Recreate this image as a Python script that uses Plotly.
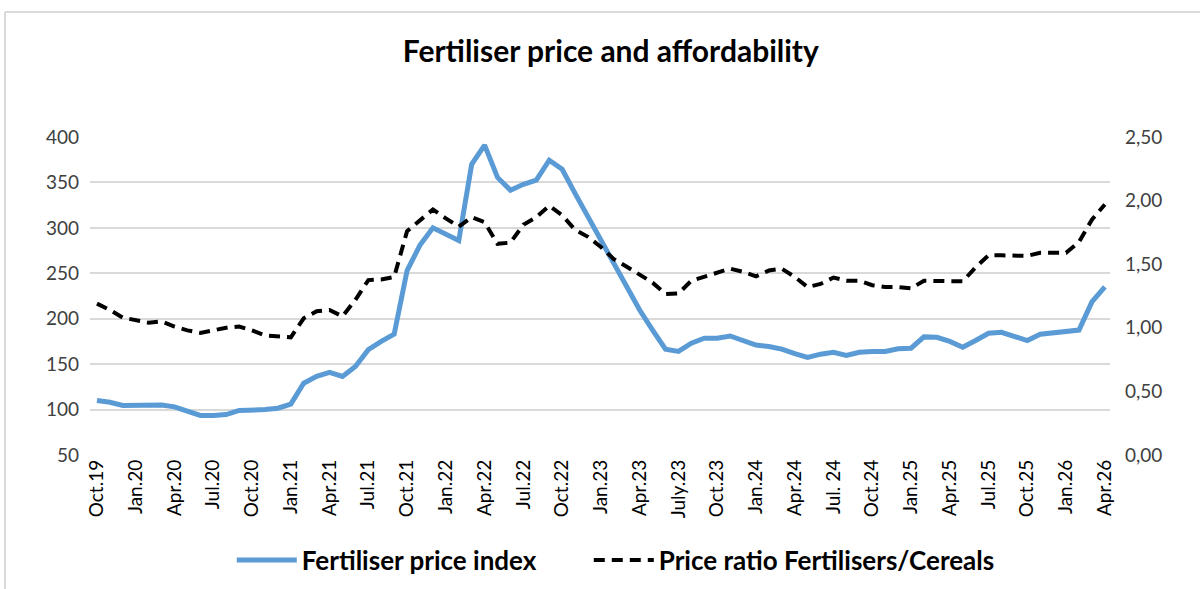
import plotly.graph_objects as go

months = ["Oct.19","Nov.19","Dec.19","Jan.20","Feb.20","Mar.20","Apr.20","May.20","Jun.20","Jul.20","Aug.20","Sep.20",
          "Oct.20","Nov.20","Dec.20","Jan.21","Feb.21","Mar.21","Apr.21","May.21","Jun.21","Jul.21","Aug.21","Sep.21",
          "Oct.21","Nov.21","Dec.21","Jan.22","Feb.22","Mar.22","Apr.22","May.22","Jun.22","Jul.22","Aug.22","Sep.22",
          "Oct.22","Nov.22","Dec.22","Jan.23","Feb.23","Mar.23","Apr.23","May.23","Jun.23","Jul.23","Aug.23","Sep.23",
          "Oct.23","Nov.23","Dec.23","Jan.24","Feb.24","Mar.24","Apr.24","May.24","Jun.24","Jul.24","Aug.24","Sep.24",
          "Oct.24","Nov.24","Dec.24","Jan.25","Feb.25","Mar.25","Apr.25","May.25","Jun.25","Jul.25","Aug.25","Sep.25",
          "Oct.25","Nov.25","Dec.25","Jan.26","Feb.26","Mar.26","Apr.26"]

fert_index = [110, 108, 104.5, 105, 105, 105, 103, 98, 93.5, 93.5, 94.5, 99,
              99, 100, 101.5, 106, 129, 136.5, 141, 136.5, 147.5, 166, 175, 183,
              253, 281, 300, 293.5, 286, 370, 391, 355.5, 341.5, 348, 352.5, 374.5,
              364.5, 338, 312, 286, 259.5, 233, 209.5, 187.5, 166.5, 164, 173, 178.5,
              178.5, 181, 176, 171, 169.5, 166.5, 161.5, 157.5, 161, 163, 159.5, 163,
              164, 164, 167, 167.5, 180, 179.5, 175, 168.5, 176, 184, 185, 180.5,
              176, 183, 184.5, 186, 187.5, 218.5, 235]

price_ratio = [1.19, 1.14, 1.08, 1.06, 1.04, 1.05, 1.01, 0.98, 0.96, 0.98, 1.00, 1.01,
               0.98, 0.94, 0.93, 0.925, 1.075, 1.13, 1.14, 1.09, 1.22, 1.375, 1.38, 1.40,
               1.76, 1.85, 1.93, 1.86, 1.795, 1.87, 1.83, 1.66, 1.67, 1.81, 1.87, 1.96,
               1.885, 1.77, 1.715, 1.635, 1.54, 1.48, 1.42, 1.355, 1.265, 1.27, 1.37, 1.40,
               1.435, 1.465, 1.44, 1.405, 1.45, 1.465, 1.40, 1.32, 1.345, 1.395, 1.37, 1.37,
               1.335, 1.32, 1.32, 1.31, 1.37, 1.37, 1.365, 1.365, 1.475, 1.57, 1.57, 1.565,
               1.565, 1.59, 1.59, 1.59, 1.675, 1.85, 1.97]

tick_months = months[::3]
tick_labels = ["Oct.19","Jan.20","Apr.20","Jul.20","Oct.20","Jan.21","Apr.21","Jul.21","Oct.21","Jan.22",
               "Apr.22","Jul.22","Oct.22","Jan.23","Apr.23","July.23","Oct.23","Jan.24","Apr.24","Jul. 24",
               "Oct.24","Jan.25","Apr.25","Jul.25","Oct.25","Jan.26","Apr.26"]

FONT = "Lato"

fig = go.Figure()
fig.add_trace(go.Scatter(x=months, y=fert_index, mode="lines", name="<b>Fertiliser price index</b>",
                         line=dict(color="#5B9BD5", width=5), yaxis="y", legend="legend"))
fig.add_trace(go.Scatter(x=months, y=price_ratio, mode="lines", name="<b>Price ratio Fertilisers/Cereals</b>",
                         line=dict(color="#000000", width=4, dash="11px,7px"), yaxis="y2", legend="legend2"))

legend_common = dict(orientation="h", xanchor="left", yref="container", y=0.049, yanchor="middle",
                     font=dict(family=FONT, size=26, color="#000000"), itemwidth=60,
                     bgcolor="rgba(0,0,0,0)")

fig.update_layout(
    width=1200, height=589,
    paper_bgcolor="white", plot_bgcolor="white",
    separators=", ",
    margin=dict(l=90, r=90, t=137, b=134),
    title=dict(text="<b>Fertiliser price and affordability</b>", x=0.509, xanchor="center",
               y=0.912, yanchor="middle", font=dict(family=FONT, size=30, color="#000000")),
    font=dict(family=FONT, color="#404040"),
    xaxis=dict(type="category", tickmode="array", tickvals=tick_months, ticktext=tick_labels,
               tickangle=-90, tickfont=dict(family=FONT, size=19, color="#000000"),
               showgrid=False, showline=False, zeroline=False, ticks="", range=[-0.54, 78.4]),
    yaxis=dict(range=[50, 400], dtick=50, tickfont=dict(family=FONT, size=19, color="#404040"),
               showgrid=True, gridcolor="#d9d9d9", gridwidth=2, zeroline=False, ticks="",
               showline=False, ticklabelstandoff=10),
    yaxis2=dict(range=[0, 2.5], dtick=0.5, tickformat=".2f", overlaying="y", side="right",
                tickfont=dict(family=FONT, size=19, color="#404040"), showgrid=False,
                zeroline=False, ticks="", showline=False, ticklabelstandoff=14),
    legend=dict(x=0.139, **legend_common),
    legend2=dict(x=0.489, **legend_common),
    showlegend=True,
)

fig.add_shape(type="line", xref="paper", yref="paper", x0=-0.0833, x1=1.1, y0=1.393, y1=1.393,
              line=dict(color="#d9d9d9", width=2))
fig.add_shape(type="line", xref="paper", yref="paper", x0=-0.0833, x1=-0.0833, y0=1.393, y1=-0.45,
              line=dict(color="#d9d9d9", width=2))

fig.write_html("out.html", config={"displayModeBar": False},
               post_script="document.body.style.margin='0';")
